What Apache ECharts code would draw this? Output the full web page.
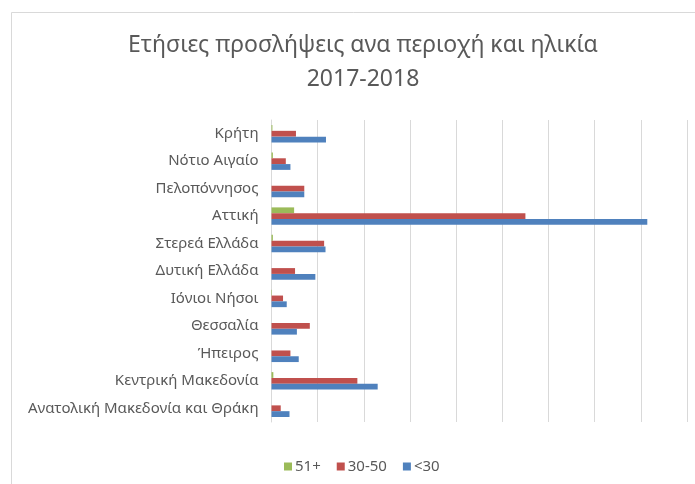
<!DOCTYPE html>
<html>
<head>
<meta charset="utf-8">
<script src="https://cdn.jsdelivr.net/npm/echarts@6/dist/echarts.min.js"></script>
<style>
html,body{margin:0;padding:0;background:#fff;}
#c{width:695px;height:484px;}
</style>
</head>
<body>
<div id="c"></div>
<script>
const categories = ["Κρήτη","Νότιο Αιγαίο","Πελοπόννησος","Αττική","Στερεά Ελλάδα","Δυτική Ελλάδα","Ιόνιοι Νήσοι","Θεσσαλία","Ήπειρος","Κεντρική Μακεδονία","Ανατολική Μακεδονία και Θράκη"];
const seriesNames = ["51+","30-50","<30"];
const age51plus = [2, 3, 0, 49, 3, 0, 1, 0, 0, 4, 0];
const age30to50 = [53, 31, 71, 550, 114, 51, 25, 83, 41, 186, 20];
const ageUnder30 = [118, 41, 71, 814, 117, 95, 33, 55, 59, 230, 39];
const colors = ["#9bbb59","#c0504d","#4f81bd"];

const chart = echarts.init(document.getElementById('c'));
const font = "'Noto Sans', sans-serif";
chart.setOption({
  animation: false,
  backgroundColor: '#fff',
  graphic: [{
    type: 'rect', left: 9, top: 10,
    shape: {width: 700, height: 490},
    style: {fill: 'none', stroke: '#d9d9d9', lineWidth: 1}
  }],
  title: {
    text: 'Ετήσιες προσλήψεις ανα περιοχή και ηλικία\n2017-2018',
    left: 358, top: 23, textAlign: 'center',
    textStyle: {fontFamily: font, fontSize: 23, fontWeight: 'normal', color: '#595959', lineHeight: 34}
  },
  legend: {
    data: seriesNames,
    left: 279, top: 454,
    itemWidth: 8, itemHeight: 8, itemGap: 16,
    icon: 'rect',
    textStyle: {fontFamily: font, fontSize: 15, color: '#595959', padding: [0,0,0,-2]}
  },
  grid: {left: 271.5, right: 8, top: 120, bottom: 62, containLabel: false},
  xAxis: {
    type: 'value', min: 0, max: 900, interval: 100,
    axisLabel: {show: false}, axisLine: {show: false}, axisTick: {show: false},
    splitLine: {lineStyle: {color: '#d9d9d9', width: 1}}
  },
  yAxis: {
    type: 'category', data: categories, inverse: true,
    axisLine: {lineStyle: {color: '#d9d9d9'}},
    axisTick: {lineStyle: {color: '#d9d9d9'}, length: 5},
    axisLabel: {fontFamily: font, fontSize: 15, color: '#595959', margin: 13}
  },
  series: [
    {name: seriesNames[0], type: 'bar', data: age51plus, itemStyle: {color: colors[0]}, barWidth: 5.8, barGap: '0%'},
    {name: seriesNames[1], type: 'bar', data: age30to50, itemStyle: {color: colors[1]}, barWidth: 5.8, barGap: '0%'},
    {name: seriesNames[2], type: 'bar', data: ageUnder30, itemStyle: {color: colors[2]}, barWidth: 5.8, barGap: '0%'}
  ]
});
</script>
</body>
</html>
